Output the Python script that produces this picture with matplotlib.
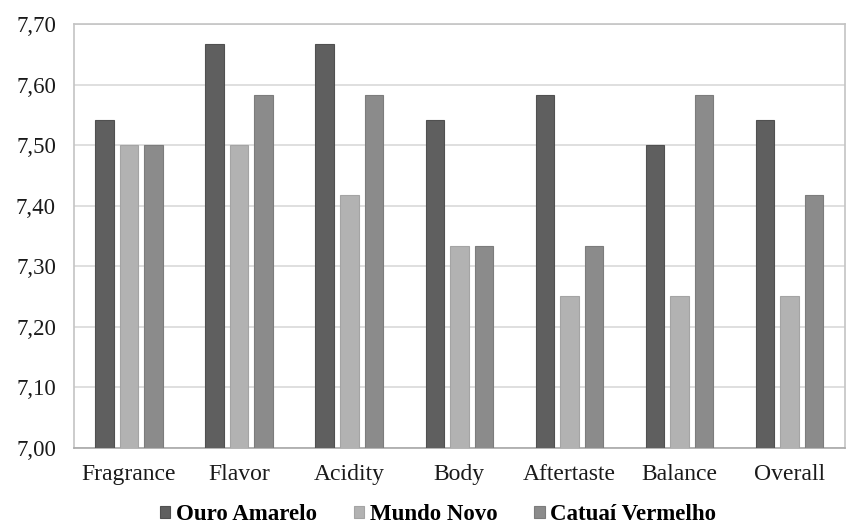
import matplotlib
matplotlib.use("Agg")
import matplotlib.pyplot as plt
import numpy as np
from matplotlib.ticker import FuncFormatter

categories = ["Fragrance", "Flavor", "Acidity", "Body", "Aftertaste", "Balance", "Overall"]
ouro_amarelo = [7.542, 7.667, 7.667, 7.542, 7.583, 7.500, 7.542]
mundo_novo = [7.500, 7.500, 7.417, 7.333, 7.250, 7.250, 7.250]
catuai_vermelho = [7.500, 7.583, 7.583, 7.333, 7.333, 7.583, 7.417]
series_names = ["Ouro Amarelo", "Mundo Novo", "Catuaí Vermelho"]
y_ticks = [7.0, 7.1, 7.2, 7.3, 7.4, 7.5, 7.6, 7.7]

plt.rcParams["font.family"] = ["Liberation Serif", "DejaVu Serif"]

fig = plt.figure(figsize=(8.46, 5.29), dpi=100)
ax = fig.add_axes([0.0875, 0.154, 0.911, 0.8005])

colors = ["#5f5f5f", "#b2b2b2", "#8b8b8b"]
edges = ["#505050", "#a4a4a4", "#7c7c7c"]
x = np.arange(len(categories))
width = 0.168
step = 0.223
for i, (vals, name) in enumerate(zip([ouro_amarelo, mundo_novo, catuai_vermelho], series_names)):
    ax.bar(x + (i - 1) * step, vals, width=width, color=colors[i], edgecolor=edges[i],
           linewidth=0.8, label=name, zorder=3)

ax.set_xlim(-0.5, len(categories) - 0.5)
ax.set_ylim(7.0, 7.7)
ax.set_yticks(y_ticks)
ax.yaxis.set_major_formatter(FuncFormatter(lambda v, p: f"{v:.2f}".replace(".", ",")))
ax.set_xticks(x)
ax.set_xticklabels(categories)
ax.tick_params(axis="both", length=0, colors="#1a1a1a")
ax.tick_params(axis="x", pad=12, labelsize=17)
ax.tick_params(axis="y", pad=13, labelsize=16.5)
ax.grid(axis="y", color="#d9d9d9", linewidth=1.2, zorder=0)
for side in ["top", "left", "right"]:
    ax.spines[side].set_color("#c4c4c4")
    ax.spines[side].set_linewidth(1.2)
ax.spines["bottom"].set_color("#a8a8a8")
ax.spines["bottom"].set_linewidth(1.2)

leg = fig.legend(loc="center", bbox_to_anchor=(0.518, 0.027), ncol=3, frameon=False,
                 prop={"weight": "bold", "size": 16.5}, handlelength=0.45, handleheight=0.45,
                 handletextpad=0.25, columnspacing=1.6)

fig.savefig("out.png", dpi=100, facecolor="white")
